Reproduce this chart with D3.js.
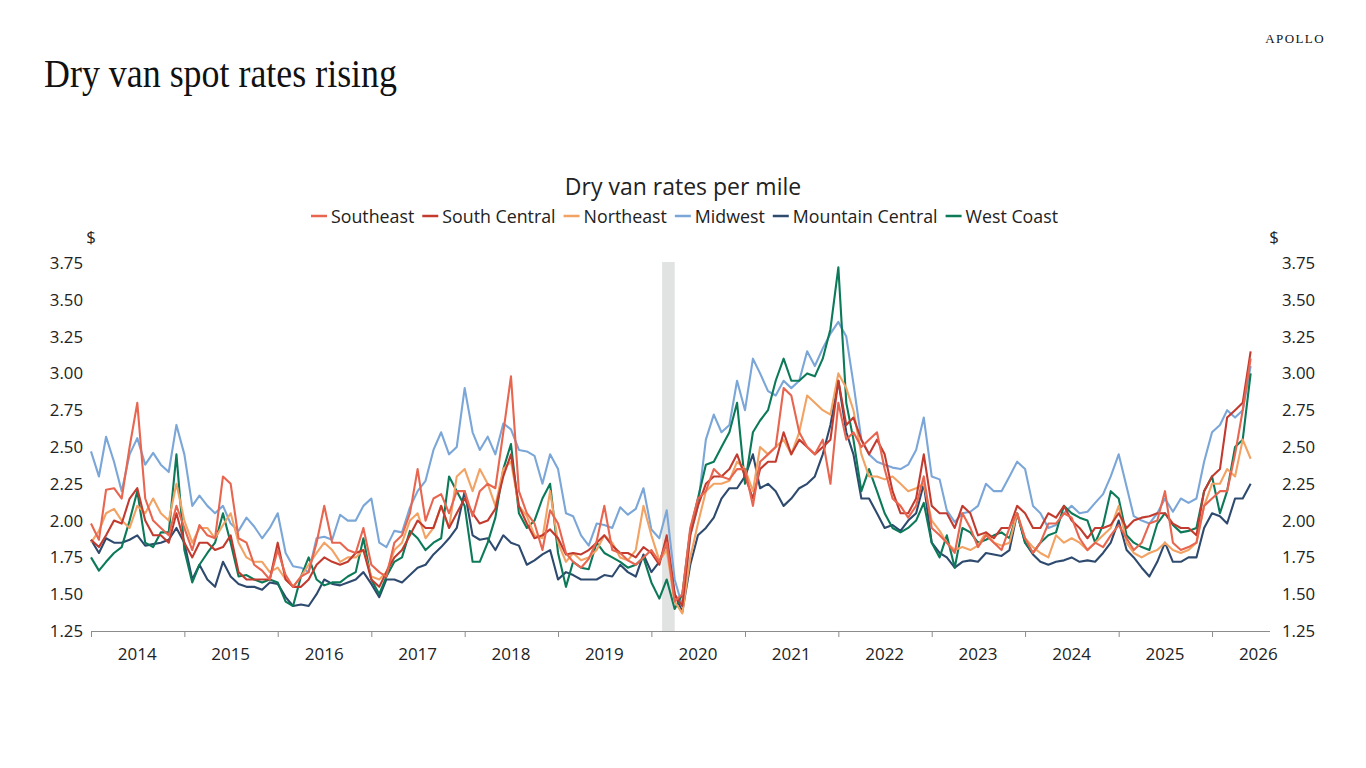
<!DOCTYPE html>
<html><head><meta charset="utf-8">
<script src="https://cdn.jsdelivr.net/npm/d3@7"></script>
<style>
html,body{margin:0;padding:0;background:#fff;}
svg{display:block;}
</style></head>
<body>
<svg id="c" width="1366" height="768"></svg>
<script>
// ---- data (monthly readings, Jan 2014 .. Jun 2026) ----
const startMonth = "2014-01-01";
const endMonth = "2026-07-01"; // exclusive
const seriesNames = ["Southeast","South Central","Northeast","Midwest","Mountain Central","West Coast"];
const seriesColors = ["#E8654F","#C23B2E","#F2A262","#7BA6D8","#2E4A6E","#0C7A59"];
const yTicks = [1.25,1.50,1.75,2.00,2.25,2.50,2.75,3.00,3.25,3.50,3.75];
const yearLabels = ["2014","2015","2016","2017","2018","2019","2020","2021","2022","2023","2024","2025","2026"];
const recession = ["2020-02-12","2020-04-01"];

const southeast = [
1.98,1.87,2.21,2.22,2.15,2.5,2.8,2.15,2.0,1.95,1.9,2.1,
1.95,1.8,1.97,1.9,1.88,2.3,2.25,1.88,1.85,1.7,1.66,1.6,
1.8,1.63,1.55,1.62,1.65,1.85,2.1,1.85,1.85,1.8,1.78,1.95,
1.7,1.65,1.62,1.85,1.9,2.05,2.35,2.0,2.15,2.18,2.05,2.2,
2.2,2.03,2.2,2.25,2.22,2.6,2.98,2.2,2.05,1.98,1.8,2.07,
1.98,1.78,1.72,1.68,1.74,1.86,2.1,1.8,1.78,1.73,1.7,1.75,
1.8,1.72,1.85,1.45,1.5,1.95,2.15,2.2,2.35,2.3,2.28,2.35,
2.35,2.1,2.4,2.45,2.5,2.9,2.85,2.6,2.5,2.45,2.55,2.25,
2.8,2.55,2.6,2.5,2.55,2.6,2.35,2.15,2.1,2.02,2.1,2.3,
1.95,1.9,1.85,1.78,2.05,1.95,1.82,1.9,1.85,1.8,1.95,2.05,
1.88,1.78,1.85,1.98,1.98,2.05,2.02,1.88,1.8,1.85,1.82,1.9,
1.97,1.88,1.8,1.85,1.98,2.0,2.2,1.85,1.8,1.82,1.85,2.1,
2.15,2.2,2.2,2.45,2.75,3.1];

const southCentral = [
1.87,1.82,1.9,2.0,1.98,2.15,2.22,2.0,1.9,1.9,1.85,2.05,
1.85,1.75,1.85,1.85,1.8,1.82,1.9,1.65,1.6,1.6,1.6,1.6,
1.85,1.6,1.55,1.55,1.6,1.7,1.75,1.72,1.7,1.72,1.78,1.8,
1.6,1.55,1.65,1.75,1.8,1.9,2.0,1.95,1.95,2.1,1.95,2.05,
2.15,2.05,1.98,2.0,2.08,2.3,2.45,2.1,1.98,1.88,1.9,1.94,
1.88,1.77,1.78,1.77,1.8,1.85,1.9,1.83,1.78,1.78,1.75,1.82,
1.78,1.7,1.9,1.5,1.42,1.9,2.1,2.25,2.3,2.3,2.35,2.45,
2.3,2.15,2.35,2.4,2.4,2.6,2.45,2.55,2.5,2.45,2.5,2.55,
2.95,2.65,2.7,2.55,2.45,2.55,2.45,2.2,2.05,2.05,2.15,2.45,
2.1,2.05,2.05,1.95,2.1,2.05,1.9,1.92,1.88,1.95,1.95,2.1,
2.05,1.95,1.95,2.05,2.02,2.1,2.0,1.95,1.88,1.95,1.95,1.97,
2.05,1.95,2.0,2.02,2.03,2.05,2.05,1.98,1.95,1.95,1.9,2.2,
2.3,2.35,2.7,2.75,2.8,3.15];

const northeast = [
1.85,1.93,2.05,2.08,2.0,1.95,2.1,2.05,2.15,2.05,2.0,2.25,
2.0,1.85,1.95,1.95,1.88,1.97,2.05,1.85,1.75,1.72,1.72,1.65,
1.68,1.6,1.55,1.62,1.7,1.78,1.85,1.8,1.72,1.75,1.75,1.8,
1.62,1.6,1.65,1.8,1.85,2.0,2.05,1.88,1.95,2.1,1.95,2.3,
2.35,2.2,2.35,2.25,2.1,2.35,2.4,2.1,2.03,1.9,1.88,2.2,
1.85,1.72,1.78,1.73,1.75,1.8,1.9,1.85,1.75,1.73,1.8,2.1,
1.9,1.73,1.8,1.45,1.37,1.75,1.98,2.2,2.25,2.25,2.27,2.4,
2.35,2.2,2.5,2.45,2.5,2.55,2.45,2.6,2.85,2.8,2.75,2.72,
3.0,2.9,2.75,2.45,2.3,2.3,2.28,2.3,2.25,2.2,2.22,2.25,
2.0,1.93,1.85,1.8,1.82,1.8,1.83,1.92,1.85,1.83,1.85,2.05,
1.88,1.82,1.78,1.75,1.9,1.85,1.88,1.85,1.8,1.85,1.9,1.95,
2.1,1.85,1.78,1.75,1.78,1.8,1.85,1.8,1.78,1.8,1.85,2.1,
2.25,2.25,2.35,2.3,2.55,2.42];

const midwest = [
2.47,2.3,2.57,2.4,2.2,2.45,2.56,2.38,2.46,2.38,2.33,2.65,
2.45,2.1,2.17,2.1,2.05,2.1,1.98,1.93,2.02,1.96,1.88,1.95,
2.05,1.78,1.69,1.68,1.65,1.88,1.89,1.87,2.04,2.0,2.0,2.1,
2.15,1.85,1.82,1.93,1.92,2.09,2.2,2.27,2.48,2.6,2.45,2.5,
2.9,2.6,2.48,2.57,2.45,2.66,2.62,2.48,2.47,2.44,2.25,2.45,
2.35,2.05,2.03,1.9,1.83,1.98,1.97,1.95,2.09,2.04,2.08,2.22,
1.94,1.88,2.07,1.6,1.42,1.9,2.1,2.55,2.72,2.6,2.65,2.95,
2.75,3.1,3.0,2.88,2.85,2.95,2.9,2.95,3.15,3.05,3.17,3.27,
3.35,3.25,2.93,2.55,2.45,2.4,2.38,2.36,2.35,2.38,2.48,2.7,
2.3,2.28,2.07,1.99,2.05,2.06,2.1,2.25,2.2,2.2,2.3,2.4,
2.35,2.1,2.05,1.95,1.97,2.05,2.1,2.05,2.06,2.12,2.18,2.3,
2.45,2.23,2.03,2.0,1.98,2.05,2.15,2.06,2.15,2.12,2.15,2.4,
2.6,2.65,2.75,2.7,2.75,3.05];

const mountainCentral = [
1.87,1.78,1.88,1.85,1.85,1.87,1.9,1.83,1.84,1.85,1.87,1.95,
1.85,1.6,1.7,1.6,1.55,1.72,1.62,1.57,1.55,1.55,1.53,1.58,
1.57,1.48,1.42,1.43,1.42,1.5,1.6,1.57,1.56,1.58,1.6,1.65,
1.57,1.48,1.6,1.6,1.58,1.63,1.68,1.7,1.77,1.82,1.88,1.95,
2.2,1.9,1.87,1.88,1.8,1.9,1.85,1.83,1.7,1.73,1.77,1.8,
1.6,1.65,1.63,1.6,1.6,1.6,1.63,1.62,1.7,1.65,1.62,1.77,
1.65,1.72,1.85,1.5,1.38,1.7,1.9,1.95,2.02,2.15,2.22,2.22,
2.3,2.45,2.22,2.25,2.2,2.1,2.15,2.22,2.25,2.3,2.45,2.65,
2.95,2.6,2.45,2.15,2.15,2.05,1.95,1.97,1.93,2.0,2.05,2.25,
1.85,1.78,1.75,1.68,1.72,1.73,1.72,1.78,1.77,1.76,1.8,2.05,
1.85,1.77,1.72,1.7,1.72,1.73,1.75,1.72,1.73,1.72,1.78,1.85,
2.0,1.8,1.75,1.68,1.62,1.72,1.85,1.72,1.72,1.75,1.75,1.95,
2.05,2.03,1.98,2.15,2.15,2.25];

const westCoast = [
1.75,1.66,1.72,1.78,1.82,2.0,2.2,1.85,1.82,1.92,1.92,2.45,
1.8,1.58,1.7,1.78,1.85,2.05,1.85,1.62,1.63,1.6,1.58,1.6,
1.58,1.45,1.42,1.62,1.75,1.6,1.56,1.58,1.58,1.62,1.65,1.88,
1.6,1.5,1.62,1.72,1.75,1.93,1.88,1.8,1.85,1.88,2.3,2.2,
2.1,1.72,1.72,1.85,2.02,2.35,2.52,2.05,1.95,2.0,2.15,2.25,
1.78,1.55,1.72,1.68,1.67,1.85,1.78,1.75,1.72,1.68,1.7,1.75,
1.58,1.47,1.6,1.4,1.5,1.93,2.15,2.38,2.4,2.5,2.6,2.8,
2.25,2.6,2.68,2.75,2.95,3.1,2.95,2.95,3.0,2.98,3.1,3.3,
3.72,2.8,2.55,2.2,2.35,2.2,2.05,1.95,1.92,1.95,2.0,2.12,
1.85,1.75,1.9,1.68,1.95,1.92,1.85,1.87,1.9,1.92,1.88,2.05,
1.85,1.78,1.85,1.9,1.92,2.1,2.05,2.02,2.0,1.85,1.97,2.2,
2.15,1.9,1.85,1.82,1.8,1.98,2.05,1.97,1.92,1.93,1.95,2.2,
2.3,2.05,2.2,2.5,2.55,3.0];

const seriesValues = [southeast, southCentral, northeast, midwest, mountainCentral, westCoast];

// ---- drawing ----
const svg = d3.select("#c");
const parse = d3.timeParse("%Y-%m-%d");
const dates = d3.timeMonth.range(parse(startMonth), parse(endMonth));

const x = d3.scaleTime().domain([new Date(2014,0,1), new Date(2026,6,31)]).range([91,1266]);
const y = d3.scaleLinear().domain([1.25,3.75]).range([631,263]);

// title
svg.append("text").attr("x",44).attr("y",87)
  .attr("font-family","'Liberation Serif','Times New Roman',serif")
  .attr("font-size",40).attr("textLength",353).attr("lengthAdjust","spacingAndGlyphs")
  .attr("fill","#111").text("Dry van spot rates rising");
svg.append("text").attr("x",1325).attr("y",43).attr("text-anchor","end")
  .attr("font-family","'Liberation Serif','Times New Roman',serif")
  .attr("font-size",13).attr("letter-spacing",1.4).attr("fill","#111").text("APOLLO");

const sans = "'Open Sans','Noto Sans',sans-serif";
svg.append("text").attr("x",683).attr("y",195).attr("text-anchor","middle")
  .attr("font-family",sans).attr("font-size",23).attr("fill","#222").text("Dry van rates per mile");

// legend
const legend = svg.append("g").attr("font-family",sans).attr("font-size",17.8).attr("fill","#222");
let lx = 311;
seriesNames.forEach((n,i)=>{
  legend.append("line").attr("x1",lx).attr("x2",lx+16).attr("y1",216).attr("y2",216)
    .attr("stroke",seriesColors[i]).attr("stroke-width",2.5);
  const t = legend.append("text").attr("x",lx+20).attr("y",223).text(n);
  lx += 20 + t.node().getComputedTextLength() + 8;
});

// recession shading
svg.append("rect").attr("x",x(parse(recession[0]))).attr("y",262)
  .attr("width",x(parse(recession[1]))-x(parse(recession[0]))).attr("height",631-262)
  .attr("fill","#e1e2e2");

// y labels
const ylab = svg.append("g").attr("font-family",sans).attr("font-size",16.8).attr("fill","#222");
yTicks.forEach(v=>{
  ylab.append("text").attr("x",83).attr("y",y(v)+6).attr("text-anchor","end").text(d3.format(".2f")(v));
  ylab.append("text").attr("x",1282).attr("y",y(v)+6).attr("text-anchor","start").text(d3.format(".2f")(v));
});
ylab.append("text").attr("x",91).attr("y",243).attr("text-anchor","middle").text("$");
ylab.append("text").attr("x",1274).attr("y",243).attr("text-anchor","middle").text("$");

// x axis
const yearTicks = yearLabels.map(s=>new Date(+s,0,1));
const xAxis = d3.axisBottom(x).tickValues(yearTicks).tickSize(6).tickFormat("").tickSizeOuter(0);
const gx = svg.append("g").attr("transform","translate(0,631)").call(xAxis);
gx.select(".domain").attr("stroke","#8c8c8c").attr("d","M91,0.5H1270");
gx.selectAll(".tick line").attr("stroke","#8c8c8c");
const xl = svg.append("g").attr("font-family",sans).attr("font-size",17).attr("fill","#222");
yearLabels.forEach(s=>{
  xl.append("text").attr("x",x(new Date(+s,6,1))).attr("y",660).attr("text-anchor","middle").text(s);
});

// lines
const line = d3.line().x((d,i)=>x(dates[i])).y(d=>y(d)).curve(d3.curveLinear);
const order = [3,4,5,2,1,0];
order.forEach(k=>{
  svg.append("path").datum(seriesValues[k]).attr("d",line)
    .attr("fill","none").attr("stroke",seriesColors[k]).attr("stroke-width",2.1)
    .attr("stroke-linejoin","round");
});
</script>
</body></html>
